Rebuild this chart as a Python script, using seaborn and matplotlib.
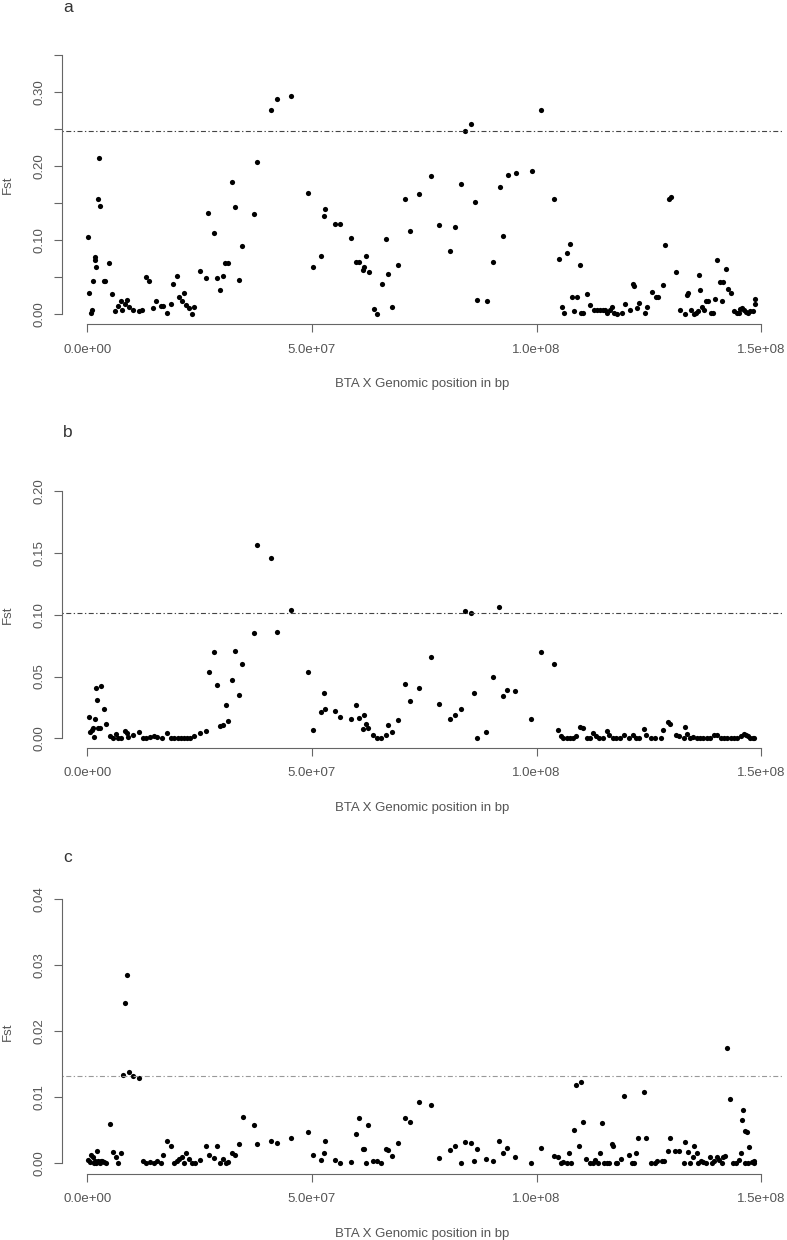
import numpy as np
import pandas as pd
import matplotlib
matplotlib.use("Agg")
import matplotlib.pyplot as plt
import seaborn as sns

# positions in Mb, Fst values
pos_a = [0.2, 0.4, 0.8, 0.9, 1.3, 1.6, 1.7, 2.0, 2.3, 2.6,
         2.8, 3.6, 4.0, 4.9, 5.5, 6.2, 6.8, 7.4, 7.7, 8.3,
         8.8, 9.2, 10.1, 11.5, 12.2, 13.0, 13.8, 14.7, 15.3, 16.4,
         16.8, 17.6, 18.5, 19.1, 19.9, 20.4, 21.0, 21.5, 21.9, 22.5,
         23.3, 23.7, 25.1, 26.3, 26.9, 28.1, 28.9, 29.5, 30.2, 30.7,
         31.2, 32.1, 32.8, 33.7, 34.4, 37.1, 37.8, 40.9, 42.2, 45.3,
         49.1, 50.2, 52.0, 52.7, 53.0, 55.1, 56.2, 58.7, 59.8, 60.4,
         61.3, 61.6, 62.1, 62.6, 63.7, 64.4, 65.5, 66.4, 67.0, 67.9,
         69.2, 70.7, 71.9, 73.9, 76.6, 78.3, 80.8, 81.8, 83.2, 84.1,
         85.4, 86.2, 86.8, 88.9, 90.2, 91.8, 92.6, 93.6, 95.4, 98.9,
         101.1, 104.0, 104.9, 105.6, 106.2, 106.8, 107.4, 107.9, 108.4, 109.0,
         109.6, 110.0, 110.4, 111.2, 111.9, 112.8, 113.5, 114.1, 114.7, 115.2,
         115.8, 116.3, 116.8, 117.3, 118.0, 119.0, 119.6, 120.8, 121.4, 121.7,
         122.3, 122.8, 124.1, 124.5, 125.7, 126.5, 127.1, 128.1, 128.5, 129.5,
         130.0, 131.1, 132.0, 133.0, 133.4, 133.8, 134.3, 135.0, 135.5, 135.9,
         136.2, 136.5, 136.8, 137.2, 137.8, 138.2, 138.8, 139.3, 139.7, 140.3,
         140.8, 141.4, 141.6, 142.2, 142.7, 143.3, 144.0, 144.6, 145.0, 145.4,
         145.8, 146.3, 146.7, 147.2, 147.6, 148.3, 148.7, 148.7]
fst_a = [0.104, 0.029, 0.001, 0.005, 0.045, 0.073, 0.077, 0.063, 0.155, 0.211,
         0.146, 0.045, 0.045, 0.069, 0.027, 0.004, 0.011, 0.018, 0.005, 0.014,
         0.019, 0.009, 0.006, 0.004, 0.006, 0.050, 0.044, 0.008, 0.017, 0.011,
         0.011, 0.002, 0.013, 0.040, 0.052, 0.023, 0.017, 0.029, 0.012, 0.008,
         0.000, 0.009, 0.058, 0.049, 0.137, 0.109, 0.049, 0.032, 0.052, 0.069,
         0.069, 0.178, 0.145, 0.046, 0.092, 0.135, 0.206, 0.276, 0.291, 0.295,
         0.163, 0.064, 0.078, 0.132, 0.142, 0.122, 0.122, 0.103, 0.070, 0.070,
         0.059, 0.064, 0.078, 0.057, 0.007, 0.000, 0.041, 0.101, 0.054, 0.010,
         0.066, 0.156, 0.112, 0.162, 0.186, 0.120, 0.085, 0.118, 0.176, 0.247,
         0.257, 0.152, 0.019, 0.017, 0.070, 0.172, 0.106, 0.188, 0.191, 0.193,
         0.275, 0.155, 0.074, 0.009, 0.001, 0.082, 0.095, 0.023, 0.004, 0.023,
         0.066, 0.002, 0.002, 0.027, 0.012, 0.006, 0.006, 0.005, 0.006, 0.005,
         0.002, 0.005, 0.009, 0.001, 0.000, 0.001, 0.014, 0.006, 0.040, 0.038,
         0.008, 0.015, 0.002, 0.009, 0.030, 0.023, 0.023, 0.039, 0.093, 0.155,
         0.158, 0.057, 0.005, 0.000, 0.026, 0.028, 0.006, 0.000, 0.002, 0.004,
         0.053, 0.032, 0.009, 0.006, 0.017, 0.018, 0.001, 0.002, 0.020, 0.073,
         0.043, 0.018, 0.043, 0.061, 0.034, 0.028, 0.004, 0.002, 0.001, 0.007,
         0.008, 0.006, 0.003, 0.001, 0.004, 0.004, 0.013, 0.020]

pos_b = [0.3, 0.6, 0.9, 1.2, 1.4, 1.7, 1.8, 2.1, 2.4, 2.8,
         2.9, 3.7, 4.2, 5.0, 5.6, 6.3, 6.9, 7.5, 8.4, 8.7,
         9.1, 10.1, 11.5, 12.3, 13.0, 13.9, 14.8, 15.5, 16.5, 17.6,
         18.6, 19.3, 20.1, 20.8, 21.6, 22.1, 22.8, 23.8, 25.1, 26.3,
         27.0, 28.2, 28.9, 29.5, 30.2, 30.8, 31.3, 32.1, 32.8, 33.7,
         34.5, 37.1, 37.8, 40.9, 42.2, 45.3, 49.1, 50.2, 52.0, 52.7,
         53.0, 55.1, 56.2, 58.7, 59.8, 60.4, 61.3, 61.6, 62.1, 62.5,
         63.6, 64.4, 65.4, 66.4, 66.9, 67.8, 69.2, 70.6, 71.8, 73.8,
         76.5, 78.3, 80.7, 81.8, 83.1, 84.1, 85.3, 86.1, 86.7, 88.8,
         90.2, 91.7, 92.5, 93.5, 95.3, 98.8, 101.0, 103.9, 104.8, 105.5,
         106.0, 106.7, 107.5, 108.2, 108.9, 109.7, 110.3, 111.2, 111.8, 112.5,
         113.2, 114.0, 114.7, 115.6, 116.2, 117.0, 117.7, 118.6, 119.5, 120.7,
         121.4, 122.1, 122.8, 123.9, 124.3, 125.5, 126.4, 127.8, 128.2, 129.2,
         129.8, 131.0, 131.8, 132.8, 133.1, 133.6, 134.2, 134.9, 135.7, 136.4,
         137.1, 137.9, 138.6, 139.5, 140.3, 141.0, 141.8, 142.5, 143.3, 144.0,
         144.7, 145.5, 146.1, 146.7, 147.2, 147.5, 148.1, 148.5]
fst_b = [0.017, 0.005, 0.007, 0.008, 0.001, 0.016, 0.041, 0.031, 0.008, 0.008,
         0.042, 0.024, 0.012, 0.002, 0.0005, 0.0035, 0.000, 0.0005, 0.006, 0.004,
         0.0013, 0.003, 0.005, 0.000, 0.0005, 0.001, 0.002, 0.001, 0.000, 0.0045,
         0.0005, 0.000, 0.000, 0.000, 0.000, 0.0005, 0.000, 0.002, 0.004, 0.006,
         0.054, 0.070, 0.043, 0.010, 0.011, 0.027, 0.014, 0.047, 0.071, 0.035,
         0.060, 0.085, 0.157, 0.146, 0.086, 0.104, 0.054, 0.007, 0.021, 0.037,
         0.0235, 0.022, 0.017, 0.0154, 0.027, 0.0165, 0.0075, 0.019, 0.012, 0.0086,
         0.003, 0.000, 0.000, 0.003, 0.011, 0.005, 0.015, 0.044, 0.030, 0.041,
         0.066, 0.028, 0.016, 0.019, 0.024, 0.103, 0.1015, 0.037, 0.0003, 0.005,
         0.050, 0.106, 0.034, 0.039, 0.038, 0.016, 0.070, 0.060, 0.007, 0.002,
         0.0005, 0.000, 0.0005, 0.0005, 0.0015, 0.009, 0.0086, 0.0005, 0.0005, 0.004,
         0.0015, 0.000, 0.000, 0.006, 0.0025, 0.0005, 0.000, 0.0005, 0.0025, 0.000,
         0.003, 0.0005, 0.0005, 0.0078, 0.003, 0.000, 0.000, 0.000, 0.0067, 0.013,
         0.0116, 0.003, 0.0015, 0.000, 0.009, 0.0035, 0.0005, 0.001, 0.000, 0.000,
         0.000, 0.0005, 0.0005, 0.0025, 0.0025, 0.000, 0.000, 0.000, 0.000, 0.0005,
         0.0005, 0.0015, 0.0035, 0.0025, 0.0015, 0.0005, 0.000, 0.000]

pos_c = [0.2, 0.6, 0.8, 1.2, 1.4, 1.6, 1.8, 2.1, 2.4, 2.7,
         3.0, 3.3, 3.7, 4.2, 5.0, 5.6, 6.3, 6.9, 7.5, 7.8,
         8.4, 8.9, 9.2, 10.2, 11.5, 12.3, 13.0, 13.9, 14.8, 15.4,
         16.4, 16.9, 17.6, 18.6, 19.2, 19.9, 20.4, 21.0, 21.5, 22.0,
         22.5, 23.3, 23.9, 25.1, 26.3, 27.0, 28.2, 28.9, 29.5, 30.2,
         30.8, 31.2, 32.1, 32.8, 33.7, 34.6, 37.1, 37.8, 40.9, 42.2,
         45.3, 49.1, 50.2, 52.0, 52.7, 53.0, 55.1, 56.2, 58.7, 59.8,
         60.4, 61.3, 61.6, 62.1, 62.5, 63.6, 64.4, 65.4, 66.4, 66.9,
         67.8, 69.2, 70.6, 71.8, 73.8, 76.5, 78.3, 80.7, 81.8, 83.1,
         84.1, 85.3, 86.1, 86.7, 88.8, 90.2, 91.7, 92.5, 93.5, 95.3,
         98.8, 101.0, 103.9, 104.8, 105.5, 106.0, 106.7, 107.2, 107.7, 108.3,
         108.9, 109.5, 109.8, 110.3, 111.0, 111.8, 112.5, 113.1, 113.6, 114.1,
         114.6, 115.0, 115.8, 116.1, 116.7, 117.1, 117.7, 118.0, 118.8, 119.5,
         120.7, 121.3, 121.6, 122.2, 122.7, 123.9, 124.4, 125.6, 126.3, 126.9,
         127.9, 128.3, 129.3, 129.8, 130.9, 131.8, 132.8, 133.1, 133.7, 134.1,
         134.8, 135.1, 135.7, 136.0, 136.6, 137.1, 137.7, 138.6, 139.1, 139.5,
         140.1, 140.7, 141.2, 141.6, 142.0, 142.4, 143.0, 143.8, 144.4, 145.2,
         145.5, 145.7, 146.0, 146.4, 146.5, 146.9, 147.1, 147.4, 147.9, 148.4,
         148.4]
fst_c = [0.0005, 0.0002, 0.0012, 0.0009, 0.0, 0.0003, 0.0, 0.0019, 0.0004, 0.0,
         0.0003, 0.0004, 0.0002, 0.0, 0.0060, 0.0017, 0.0010, 0.0, 0.0015, 0.0134,
         0.0243, 0.0286, 0.0139, 0.0133, 0.0130, 0.0003, 0.0, 0.0002, 0.0, 0.0003,
         0.0, 0.0012, 0.0034, 0.0026, 0.0001, 0.0004, 0.0007, 0.0009, 0.0001, 0.0016,
         0.0007, 0.0, 0.0, 0.0005, 0.0027, 0.0013, 0.0008, 0.0027, 0.0, 0.0006,
         0.0, 0.0002, 0.0015, 0.0012, 0.0029, 0.0070, 0.0058, 0.0029, 0.0034, 0.0031,
         0.0039, 0.0047, 0.0013, 0.0005, 0.0015, 0.0034, 0.0005, 0.0, 0.0002, 0.0044,
         0.0068, 0.0022, 0.0022, 0.0, 0.0058, 0.0003, 0.0003, 0.0001, 0.0021, 0.0020,
         0.0011, 0.0031, 0.0069, 0.0063, 0.0093, 0.0089, 0.0008, 0.0020, 0.0026, 0.0,
         0.0032, 0.0031, 0.0003, 0.0022, 0.0007, 0.0003, 0.0034, 0.0015, 0.0023, 0.0009,
         0.0, 0.0023, 0.0011, 0.0010, 0.0, 0.0002, 0.0001, 0.0016, 0.0, 0.0050,
         0.0119, 0.0027, 0.0123, 0.0063, 0.0006, 0.0, 0.0001, 0.0005, 0.0, 0.0015,
         0.0061, 0.0, 0.0001, 0.0, 0.0029, 0.0027, 0.0001, 0.0001, 0.0006, 0.0102,
         0.0012, 0.0, 0.0, 0.0016, 0.0038, 0.0108, 0.0038, 0.0, 0.0, 0.0004,
         0.0003, 0.0003, 0.0018, 0.0039, 0.0019, 0.0018, 0.0, 0.0033, 0.0017, 0.0001,
         0.0009, 0.0027, 0.0015, 0.0, 0.0004, 0.0002, 0.0, 0.0009, 0.0, 0.0004,
         0.0009, 0.0005, 0.0, 0.0010, 0.0011, 0.0174, 0.0097, 0.0, 0.0, 0.0005,
         0.0015, 0.0065, 0.0081, 0.0049, 0.0, 0.0048, 0.0001, 0.0025, 0.0002, 0.0004,
         0.0]

# significance thresholds (dot-dash lines)
thr_a = 0.2477
thr_b = 0.1014
thr_c = 0.0133

xticks = [0, 5e7, 1e8, 1.5e8]
xticklabels = ["0.0e+00", "5.0e+07", "1.0e+08", "1.5e+08"]

sns.set_style("white")
plt.rcParams["font.family"] = ["Liberation Sans", "DejaVu Sans"]

W, H = 787, 1240
fig = plt.figure(figsize=(W / 100, H / 100), dpi=100)
grey = "#555555"

panels = [
    dict(label="a", pos=pos_a, fst=fst_a, thr=thr_a, top=44.6, bottom=324.4,
         ylim=(-0.014, 0.364), yticks=[0, 0.05, 0.10, 0.15, 0.20, 0.25, 0.30, 0.35],
         ylabels=["0.00", "", "0.10", "", "0.20", "", "0.30", ""],
         lab_y=12, thr_col="#444444"),
    dict(label="b", pos=pos_b, fst=fst_b, thr=thr_b, top=481.6, bottom=748.2,
         ylim=(-0.008, 0.208), yticks=[0, 0.05, 0.10, 0.15, 0.20],
         ylabels=["0.00", "0.05", "0.10", "0.15", "0.20"],
         lab_y=436.7, thr_col="#444444"),
    dict(label="c", pos=pos_c, fst=fst_c, thr=thr_c, top=888.7, bottom=1173.9,
         ylim=(-0.0016, 0.0416), yticks=[0, 0.01, 0.02, 0.03, 0.04],
         ylabels=["0.00", "0.01", "0.02", "0.03", "0.04"],
         lab_y=861.7, thr_col="#999999"),
]

left, right = 62.3, 781.7
for p in panels:
    ax = fig.add_axes([left / W, 1 - p["bottom"] / H,
                       (right - left) / W, (p["bottom"] - p["top"]) / H])
    df = pd.DataFrame({"pos": np.array(p["pos"]) * 1e6, "fst": p["fst"]})
    sns.scatterplot(data=df, x="pos", y="fst", ax=ax, color="black",
                    s=14, linewidth=0, legend=False)
    ax.axhline(p["thr"], color=p["thr_col"], lw=0.8,
               linestyle=(0, (1.2, 2.2, 4.5, 2.2)))
    ax.set_xlim(-5.61e6, 154.6e6)
    ax.set_ylim(*p["ylim"])
    ax.set_xticks(xticks)
    ax.set_xticklabels(xticklabels, fontsize=9.5, color=grey)
    ax.set_yticks(p["yticks"])
    ax.set_yticklabels(p["ylabels"], fontsize=9.5, color=grey,
                       rotation=90, va="center")
    ax.set_xlabel("")
    ax.set_ylabel("")
    for s in ["top", "right"]:
        ax.spines[s].set_visible(False)
    ax.spines["left"].set_bounds(0, p["yticks"][-1])
    ax.spines["bottom"].set_bounds(0, 1.5e8)
    for s in ["left", "bottom"]:
        ax.spines[s].set_color("#666666")
        ax.spines[s].set_linewidth(0.8)
    ax.tick_params(axis="both", direction="out", length=5.8, width=0.8,
                   color="#666666", bottom=True, left=True)
    ax.tick_params(axis="y", pad=6)
    ax.tick_params(axis="x", pad=8)
    ax.patch.set_alpha(0)

    mid = (p["top"] + p["bottom"]) / 2
    fig.text(8 / W, 1 - mid / H, "Fst", rotation=90, ha="center", va="center",
             fontsize=9.5, color=grey)
    fig.text(422 / W, 1 - (p["bottom"] + 60) / H, "BTA X Genomic position in bp",
             ha="center", va="center", fontsize=9.5, color=grey)
    fig.text(63 / W, 1 - p["lab_y"] / H, p["label"], ha="left", va="baseline",
             fontsize=12.5, color="#333333")

fig.savefig("out.png", dpi=100)
